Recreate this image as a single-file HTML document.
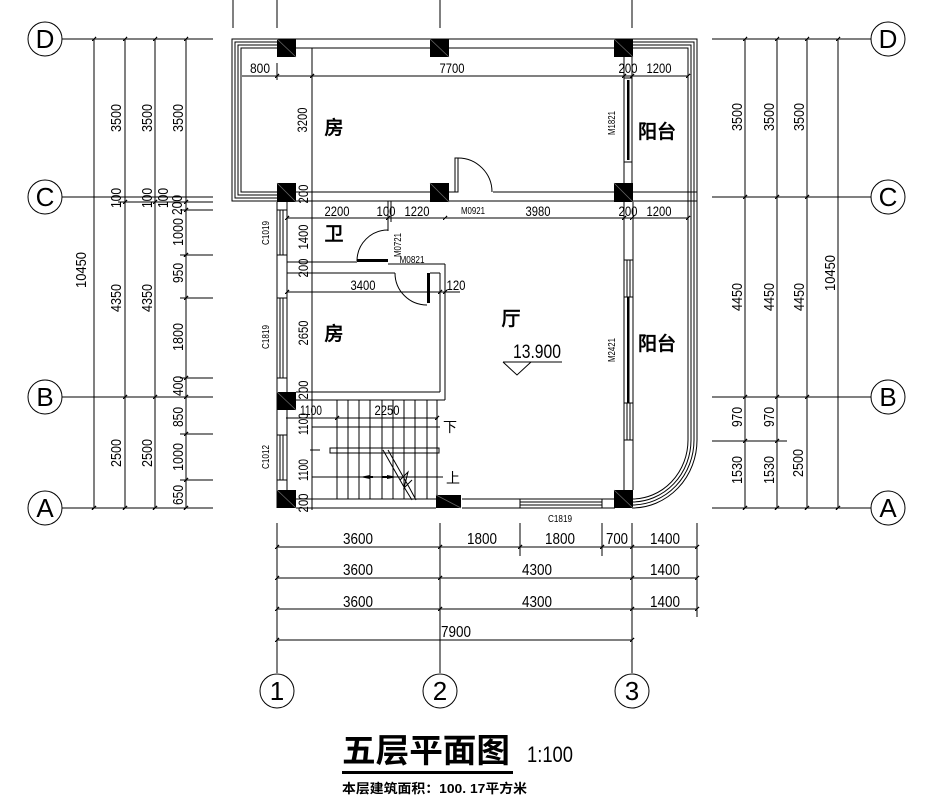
<!DOCTYPE html>
<html><head><meta charset="utf-8"><style>
html,body{margin:0;padding:0;background:#fff;}
svg{display:block}
.l{stroke:#000;stroke-width:1;fill:none}
text{font-family:"Liberation Sans Narrow","Liberation Sans",sans-serif;fill:#000}
.d{font-size:14px}
.o{font-size:15px}
.b{font-size:16px}
.s{font-size:10px}
.cn{font-family:"Liberation Sans","Noto Sans CJK SC",sans-serif;font-weight:bold;font-size:19px}
.ax{font-family:"Liberation Serif",serif;font-size:26px}
</style></head><body>
<svg width="927" height="810" viewBox="0 0 927 810" xmlns="http://www.w3.org/2000/svg">
<g class="l" shape-rendering="crispEdges">
<!-- left axis & dims -->
<path d="M62,39H213M62,197H213M62,397H213M62,508H213M94,39V508M125,39V508M155,39V508M186,39V508M118,202H213M180,210H213M180,255H213M180,298H213M180,378H213M180,434H213M180,480H213"/>
<!-- right axis & dims -->
<path d="M712,39H871M712,197H871M712,397H871M712,508H871M745,39V508M777,39V508M807,39V508M838,39V508M712,441H787"/>
<!-- top ext lines -->
<path d="M233,0V28M277,0V28M440,0V28M632,0V28"/>
<!-- bottom dims -->
<path d="M277,523V673M440,523V673M632,523V673M520,523V556M602,523V556M697,523V617M277,547H697M277,578H697M277,609H697M277,640H632"/>
<!-- left balcony -->
<path d="M277,39H232V201H277M277,42H235V198H277M277,45H238V195H277M277,48H241V192H277"/>
<!-- top walls -->
<path d="M277,39H632M296,48H430M449,48H615"/>
<!-- top room right wall + door M1821 -->
<path d="M624,57V183M632,57V183M624,78H632M624,162H632"/>
<!-- dims inside top -->
<path d="M312,48V192M242,76H688M277,63V80M632,63V80M624,70V80"/>
<!-- C wall -->
<path d="M296,192H430M449,192H455M493,192H615M632,192H697M232,201H697"/>
<!-- lower section -->
<path d="M287,218H688M388,201V231M391,201V222M277,202V508M287,202V508M280,210V255M283,210V255M280,298V378M283,298V378M280,435V480M283,435V480M277,210H287M277,255H287M277,298H287M277,378H287M277,435H287M277,480H287"/>
<!-- bathroom / bedroom -->
<path d="M287,262H357M287,273H395M388,264H445M430,273H440M440,273V392M445,264V400M296,392H440M296,400H445M287,292H460M312,192V510"/>
<!-- stairs -->
<path d="M337,400V499M348,400V499M359,400V499M370,400V499M382,400V499M393,400V499M404,400V499M415,400V499M427,400V499M437,400V499M286,418H438M312,427H440M312,477H443M310,450H320"/>
<!-- bottom wall -->
<path d="M296,499H436M296,508H436M462,499H615M462,508H615M520,502H602M520,505H602M520,499V508M602,499V508"/>
<!-- hall right wall -->
<path d="M624,202V490M633,202V490M627,260V297M630,260V297M627,403V440M630,403V440M624,260H633M624,297H633M624,403H633M624,440H633"/>
<!-- ticks -->
<path stroke-width="1.4" d="M92,41L96,37M123,41L127,37M153,41L157,37M184,41L188,37M92,510L96,506M123,510L127,506M153,510L157,506M184,510L188,506M123,399L127,395M153,399L157,395M184,399L188,395M184,380L188,376M184,436L188,432M184,482L188,478M184,300L188,296M184,257L188,253M184,212L188,208M123,204L127,200M153,204L157,200M184,204L188,200M743,41L747,37M775,41L779,37M805,41L809,37M836,41L840,37M743,199L747,195M775,199L779,195M805,199L809,195M743,399L747,395M775,399L779,395M805,399L809,395M743,443L747,439M775,443L779,439M743,510L747,506M775,510L779,506M805,510L809,506M836,510L840,506M275,549L279,545M438,549L442,545M518,549L522,545M600,549L604,545M630,549L634,545M695,549L699,545M275,580L279,576M438,580L442,576M630,580L634,576M695,580L699,576M275,611L279,607M438,611L442,607M630,611L634,607M695,611L699,607M275,642L279,638M630,642L634,638M275,78L279,74M310,78L314,74M622,78L626,74M630,78L634,74M686,78L690,74M285,220L289,216M386,220L390,216M443,220L447,216M622,220L626,216M630,220L634,216M686,220L690,216M285,294L289,290M438,294L442,290M443,294L447,290M335,420L339,416M435,420L439,416"/>
</g>
<!-- right balcony rails with arcs -->
<g class="l">
<path d="M632,39H697V440A65,68 0 0 1 632,508"/>
<path d="M632,42H694V440A62,65 0 0 1 632,505"/>
<path d="M632,45H691V440A59,62 0 0 1 632,502"/>
<path d="M632,48H688V440A56,59 0 0 1 632,499"/>
<!-- doors -->
<rect x="455" y="158" width="3" height="34"/>
<path d="M458,158A34,34 0 0 1 492,192"/>
<path d="M357,261A31,31 0 0 1 388,230"/>
<path d="M395,273A32,32 0 0 0 427,305"/>
<rect x="330" y="448" width="109" height="5"/>
<path d="M383,450L404,487M388,450L409,487M400,480L408,472L404,488L412,480M404,487L412,500M409,487L416,500"/>
<path d="M503,362H562M503,362L517,375L531,362"/>
</g>
<g fill="#000">
<rect x="357" y="259" width="31" height="3"/>
<rect x="427" y="273" width="3" height="30"/>
<rect x="627" y="80" width="2.5" height="80"/>
<rect x="627" y="297" width="2.5" height="106"/>
<rect x="277" y="39" width="19" height="18"/>
<rect x="430" y="39" width="19" height="18"/>
<rect x="614" y="39" width="19" height="18"/>
<rect x="277" y="183" width="19" height="19"/>
<rect x="430" y="183" width="19" height="19"/>
<rect x="614" y="183" width="19" height="19"/>
<rect x="277" y="392" width="19" height="18"/>
<rect x="277" y="490" width="19" height="18"/>
<rect x="436" y="495" width="25" height="13"/>
<rect x="614" y="490" width="19" height="18"/>
<path d="M360,477L370,475L370,479Z M397,477L387,475L387,479Z"/>
<rect x="365" y="476" width="8" height="2"/>
<rect x="382" y="476" width="8" height="2"/>
</g>
<g stroke="#666" stroke-width="0.8">
<path d="M277,39L296,57M430,39L449,57M614,39L633,57M277,183L296,202M430,183L449,202M614,183L633,202M277,392L296,410M277,490L296,508M436,495L461,508M614,490L633,508"/>
</g>
<!-- axis circles -->
<g class="l">
<circle cx="45" cy="39" r="17"/><circle cx="45" cy="197" r="17"/><circle cx="45" cy="397" r="17"/><circle cx="45" cy="508" r="17"/>
<circle cx="888" cy="39" r="17"/><circle cx="888" cy="197" r="17"/><circle cx="888" cy="397" r="17"/><circle cx="888" cy="508" r="17"/>
<circle cx="277" cy="691" r="17"/><circle cx="440" cy="691" r="17"/><circle cx="632" cy="691" r="17"/>
</g>
<g class="ax" text-anchor="middle">
<text x="45" y="48">D</text><text x="45" y="206">C</text><text x="45" y="406">B</text><text x="45" y="517">A</text>
<text x="888" y="48">D</text><text x="888" y="206">C</text><text x="888" y="406">B</text><text x="888" y="517">A</text>
<text x="277" y="700">1</text><text x="440" y="700">2</text><text x="632" y="700">3</text>
</g>
<!-- left rotated dims -->
<g class="o" text-anchor="middle">
<text transform="translate(86,270) rotate(-90)" textLength="36" lengthAdjust="spacingAndGlyphs">10450</text>
<text transform="translate(121,118) rotate(-90)" textLength="28" lengthAdjust="spacingAndGlyphs">3500</text>
<text transform="translate(121,198) rotate(-90)" textLength="20" lengthAdjust="spacingAndGlyphs">100</text>
<text transform="translate(121,298) rotate(-90)" textLength="28" lengthAdjust="spacingAndGlyphs">4350</text>
<text transform="translate(121,453) rotate(-90)" textLength="28" lengthAdjust="spacingAndGlyphs">2500</text>
<text transform="translate(152,118) rotate(-90)" textLength="28" lengthAdjust="spacingAndGlyphs">3500</text>
<text transform="translate(152,198) rotate(-90)" textLength="20" lengthAdjust="spacingAndGlyphs">100</text>
<text transform="translate(152,298) rotate(-90)" textLength="28" lengthAdjust="spacingAndGlyphs">4350</text>
<text transform="translate(152,453) rotate(-90)" textLength="28" lengthAdjust="spacingAndGlyphs">2500</text>
<text transform="translate(183,118) rotate(-90)" textLength="28" lengthAdjust="spacingAndGlyphs">3500</text>
<text transform="translate(168,198) rotate(-90)" textLength="20" lengthAdjust="spacingAndGlyphs">100</text>
<text transform="translate(182,205) rotate(-90)" textLength="20" lengthAdjust="spacingAndGlyphs">200</text>
<text transform="translate(183,232) rotate(-90)" textLength="28" lengthAdjust="spacingAndGlyphs">1000</text>
<text transform="translate(183,273) rotate(-90)" textLength="20" lengthAdjust="spacingAndGlyphs">950</text>
<text transform="translate(183,337) rotate(-90)" textLength="28" lengthAdjust="spacingAndGlyphs">1800</text>
<text transform="translate(183,386) rotate(-90)" textLength="20" lengthAdjust="spacingAndGlyphs">400</text>
<text transform="translate(183,417) rotate(-90)" textLength="20" lengthAdjust="spacingAndGlyphs">850</text>
<text transform="translate(183,457) rotate(-90)" textLength="28" lengthAdjust="spacingAndGlyphs">1000</text>
<text transform="translate(183,495) rotate(-90)" textLength="20" lengthAdjust="spacingAndGlyphs">650</text>
<!-- right -->
<text transform="translate(742,117) rotate(-90)" textLength="28" lengthAdjust="spacingAndGlyphs">3500</text>
<text transform="translate(742,297) rotate(-90)" textLength="28" lengthAdjust="spacingAndGlyphs">4450</text>
<text transform="translate(742,417) rotate(-90)" textLength="20" lengthAdjust="spacingAndGlyphs">970</text>
<text transform="translate(742,470) rotate(-90)" textLength="28" lengthAdjust="spacingAndGlyphs">1530</text>
<text transform="translate(774,117) rotate(-90)" textLength="28" lengthAdjust="spacingAndGlyphs">3500</text>
<text transform="translate(774,297) rotate(-90)" textLength="28" lengthAdjust="spacingAndGlyphs">4450</text>
<text transform="translate(774,417) rotate(-90)" textLength="20" lengthAdjust="spacingAndGlyphs">970</text>
<text transform="translate(774,470) rotate(-90)" textLength="28" lengthAdjust="spacingAndGlyphs">1530</text>
<text transform="translate(804,117) rotate(-90)" textLength="28" lengthAdjust="spacingAndGlyphs">3500</text>
<text transform="translate(804,297) rotate(-90)" textLength="28" lengthAdjust="spacingAndGlyphs">4450</text>
<text transform="translate(803,463) rotate(-90)" textLength="28" lengthAdjust="spacingAndGlyphs">2500</text>
<text transform="translate(835,273) rotate(-90)" textLength="36" lengthAdjust="spacingAndGlyphs">10450</text>
</g>
<!-- inner dims -->
<g class="d" text-anchor="middle">
<text x="260" y="73" textLength="20" lengthAdjust="spacingAndGlyphs">800</text>
<text x="452" y="73" textLength="25" lengthAdjust="spacingAndGlyphs">7700</text>
<text x="628" y="73" textLength="19" lengthAdjust="spacingAndGlyphs">200</text>
<text x="659" y="73" textLength="25" lengthAdjust="spacingAndGlyphs">1200</text>
<text x="337" y="216" textLength="25" lengthAdjust="spacingAndGlyphs">2200</text>
<text x="386" y="216" textLength="19" lengthAdjust="spacingAndGlyphs">100</text>
<text x="417" y="216" textLength="25" lengthAdjust="spacingAndGlyphs">1220</text>
<text x="538" y="216" textLength="25" lengthAdjust="spacingAndGlyphs">3980</text>
<text x="628" y="216" textLength="19" lengthAdjust="spacingAndGlyphs">200</text>
<text x="659" y="216" textLength="25" lengthAdjust="spacingAndGlyphs">1200</text>
<text x="363" y="290" textLength="25" lengthAdjust="spacingAndGlyphs">3400</text>
<text x="456" y="290" textLength="19" lengthAdjust="spacingAndGlyphs">120</text>
<text x="311" y="415" textLength="22" lengthAdjust="spacingAndGlyphs">1100</text>
<text x="387" y="415" textLength="25" lengthAdjust="spacingAndGlyphs">2250</text>
<text transform="translate(307,120) rotate(-90)" textLength="25" lengthAdjust="spacingAndGlyphs">3200</text>
<text transform="translate(308,194) rotate(-90)" textLength="19" lengthAdjust="spacingAndGlyphs">200</text>
<text transform="translate(308,237) rotate(-90)" textLength="25" lengthAdjust="spacingAndGlyphs">1400</text>
<text transform="translate(308,268) rotate(-90)" textLength="19" lengthAdjust="spacingAndGlyphs">200</text>
<text transform="translate(308,333) rotate(-90)" textLength="25" lengthAdjust="spacingAndGlyphs">2650</text>
<text transform="translate(308,390) rotate(-90)" textLength="19" lengthAdjust="spacingAndGlyphs">200</text>
<text transform="translate(308,424) rotate(-90)" textLength="22" lengthAdjust="spacingAndGlyphs">1100</text>
<text transform="translate(308,470) rotate(-90)" textLength="22" lengthAdjust="spacingAndGlyphs">1100</text>
<text transform="translate(308,503) rotate(-90)" textLength="19" lengthAdjust="spacingAndGlyphs">200</text>
</g>
<!-- small labels -->
<g class="s" text-anchor="middle">
<text x="473" y="214" textLength="24" lengthAdjust="spacingAndGlyphs">M0921</text>
<text x="412" y="263" textLength="25" lengthAdjust="spacingAndGlyphs">M0821</text>
<text x="560" y="522" textLength="24" lengthAdjust="spacingAndGlyphs">C1819</text>
<text transform="translate(269,233) rotate(-90)" textLength="24" lengthAdjust="spacingAndGlyphs">C1019</text>
<text transform="translate(269,337) rotate(-90)" textLength="24" lengthAdjust="spacingAndGlyphs">C1819</text>
<text transform="translate(269,457) rotate(-90)" textLength="24" lengthAdjust="spacingAndGlyphs">C1012</text>
<text transform="translate(615,123) rotate(-90)" textLength="24" lengthAdjust="spacingAndGlyphs">M1821</text>
<text transform="translate(401,245) rotate(-90)" textLength="24" lengthAdjust="spacingAndGlyphs">M0721</text>
<text transform="translate(615,350) rotate(-90)" textLength="24" lengthAdjust="spacingAndGlyphs">M2421</text>
</g>
<!-- bottom dims -->
<g class="b" text-anchor="middle">
<text x="358" y="544" textLength="30" lengthAdjust="spacingAndGlyphs">3600</text>
<text x="482" y="544" textLength="30" lengthAdjust="spacingAndGlyphs">1800</text>
<text x="560" y="544" textLength="30" lengthAdjust="spacingAndGlyphs">1800</text>
<text x="617" y="544" textLength="22" lengthAdjust="spacingAndGlyphs">700</text>
<text x="665" y="544" textLength="30" lengthAdjust="spacingAndGlyphs">1400</text>
<text x="358" y="575" textLength="30" lengthAdjust="spacingAndGlyphs">3600</text>
<text x="537" y="575" textLength="30" lengthAdjust="spacingAndGlyphs">4300</text>
<text x="665" y="575" textLength="30" lengthAdjust="spacingAndGlyphs">1400</text>
<text x="358" y="607" textLength="30" lengthAdjust="spacingAndGlyphs">3600</text>
<text x="537" y="607" textLength="30" lengthAdjust="spacingAndGlyphs">4300</text>
<text x="665" y="607" textLength="30" lengthAdjust="spacingAndGlyphs">1400</text>
<text x="456" y="637" textLength="30" lengthAdjust="spacingAndGlyphs">7900</text>
</g>
<!-- elevation -->
<text x="537" y="358" text-anchor="middle" style="font-family:'Liberation Sans',sans-serif;font-size:19px" textLength="48" lengthAdjust="spacingAndGlyphs">13.900</text>
<!-- room labels -->
<g class="cn" text-anchor="middle">
<text x="334" y="134">房</text>
<text x="657" y="138">阳台</text>
<text x="334" y="240">卫</text>
<text x="334" y="340">房</text>
<text x="511" y="325">厅</text>
<text x="657" y="350">阳台</text>
</g>
<g text-anchor="middle" style="font-family:'Liberation Sans','Noto Sans CJK SC',sans-serif;font-size:14px">
<text x="450" y="432">下</text>
<text x="453" y="483">上</text>
</g>
<!-- title -->
<text x="342" y="762" style="font-family:'Liberation Sans','Noto Sans CJK SC',sans-serif;font-weight:bold;font-size:33px" textLength="168" lengthAdjust="spacingAndGlyphs">五层平面图</text>
<rect x="342" y="771" width="171" height="3" fill="#000"/>
<text x="527" y="762" style="font-size:22px" textLength="46" lengthAdjust="spacingAndGlyphs">1:100</text>
<text x="342" y="793" style="font-family:'Liberation Sans','Noto Sans CJK SC',sans-serif;font-weight:bold;font-size:13px" textLength="185" lengthAdjust="spacingAndGlyphs">本层建筑面积：100. 17平方米</text>
</svg>
</body></html>
